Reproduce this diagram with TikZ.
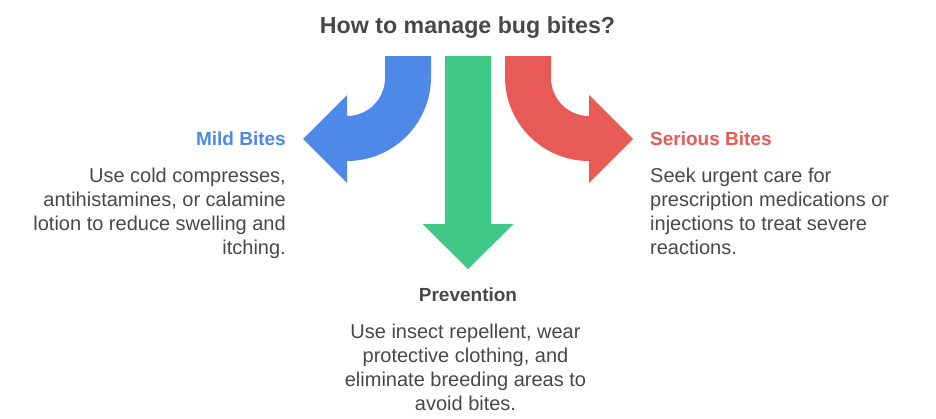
\documentclass[tikz,border=0pt]{standalone}
\usepackage{fontspec}
\setmainfont{Liberation Sans}
\definecolor{mildblue}{HTML}{4E89E8}
\definecolor{preventgreen}{HTML}{3EC785}
\definecolor{seriousred}{HTML}{E85A55}
\definecolor{textgrey}{HTML}{484848}
\tikzset{
	heading/.style={font=\fontsize{19}{24}\selectfont\bfseries, inner sep=0pt},
	body/.style={font=\fontsize{20}{24}\selectfont, text=textgrey, inner sep=0pt},
}
\begin{document}
\begin{tikzpicture}[x=1pt, y=-1pt]
	\useasboundingbox (0,0) rectangle (936,418);
	\fill[white] (0,0) rectangle (936,418);
	\node[heading, text=textgrey, font=\fontsize{23.2}{28}\selectfont\bfseries] (title) at (467.5,28) {How to manage bug bites?};
	\fill[mildblue] (385,56) -- (431,56) -- (431,77) arc[start angle=0, end angle=90, radius=84] -- (347,183) -- (303,139) -- (347,95) -- (347,116) arc[start angle=90, end angle=0, radius=38] -- cycle;
	\fill[preventgreen] (445,56) -- (491,56) -- (491,224) -- (513.5,224) -- (468,269) -- (422.5,224) -- (445,224) -- cycle;
	\fill[seriousred] (551,56) -- (505,56) -- (505,77) arc[start angle=180, end angle=90, radius=84] -- (589,183) -- (633,139) -- (589,95) -- (589,116) arc[start angle=90, end angle=180, radius=38] -- cycle;
	\node[heading, text=mildblue, anchor=east] (mild) at (286,139) {Mild Bites};
	\node[body, anchor=north east, align=right] (mildtext) at (286,167.5) {Use cold compresses,\\antihistamines, or calamine\\lotion to reduce swelling and\\itching.};
	\node[heading, text=seriousred, anchor=west] (serious) at (650,139) {Serious Bites};
	\node[body, anchor=north west, align=left] (serioustext) at (650,167.5) {Seek urgent care for\\prescription medications or\\injections to treat severe\\reactions.};
	\node[heading, text=textgrey] (prevention) at (468,295) {Prevention};
	\node[body, anchor=north, align=center] (preventiontext) at (465.5,323.5) {Use insect repellent, wear\\protective clothing, and\\eliminate breeding areas to\\avoid bites.};
\end{tikzpicture}
\end{document}
